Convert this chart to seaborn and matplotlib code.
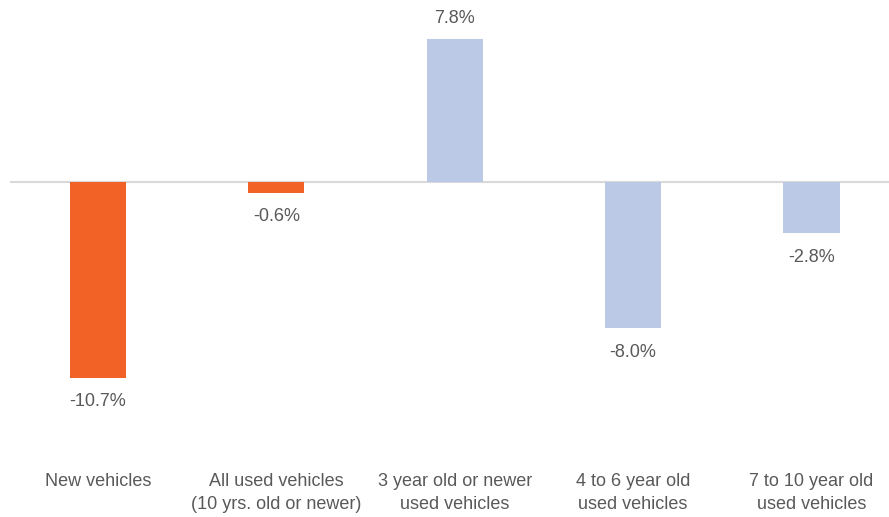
import seaborn as sns
import matplotlib.pyplot as plt
import pandas as pd

categories = ["New vehicles", "All used vehicles\n(10 yrs. old or newer)",
              "3 year old or newer\nused vehicles", "4 to 6 year old\nused vehicles",
              "7 to 10 year old\nused vehicles"]
values = [-10.7, -0.6, 7.8, -8.0, -2.8]
labels = ["-10.7%", "-0.6%", "7.8%", "-8.0%", "-2.8%"]
colors = ["#F26125", "#F26125", "#BCC9E6", "#BCC9E6", "#BCC9E6"]

sns.set_style("white")
plt.rcParams['font.family'] = ['Liberation Sans', 'DejaVu Sans']

df = pd.DataFrame({"cat": categories, "val": values})

fig = plt.figure(figsize=(8.89, 5.17), dpi=100)
ax = fig.add_axes([10 / 889, 52 / 517, 879 / 889, 465 / 517])
sns.barplot(data=df, x="cat", y="val", hue="cat", palette=colors, legend=False,
            width=0.315, saturation=1, linewidth=0, ax=ax)

ax.axhline(0, color="#D9D9D9", lw=1.5, zorder=0)
ax.set_xlim(-0.493, 4.434)
ax.set_ylim(-15.46, 9.95)

for i, (v, lab) in enumerate(zip(values, labels)):
    if v >= 0:
        ax.annotate(lab, (i, v), xytext=(0, 9), textcoords="offset points",
                    ha="center", va="bottom", fontsize=13, color="#595959")
    else:
        ax.annotate(lab, (i, v), xytext=(0, -11), textcoords="offset points",
                    ha="center", va="top", fontsize=13, color="#595959")

ax.set_xlabel("")
ax.set_ylabel("")
ax.set_yticks([])
ax.tick_params(axis="x", length=0, pad=6, labelsize=13, labelcolor="#595959")
for t in ax.get_xticklabels():
    t.set_linespacing(1.4)
sns.despine(ax=ax, left=True, bottom=True)

fig.savefig("out.png", dpi=100)
